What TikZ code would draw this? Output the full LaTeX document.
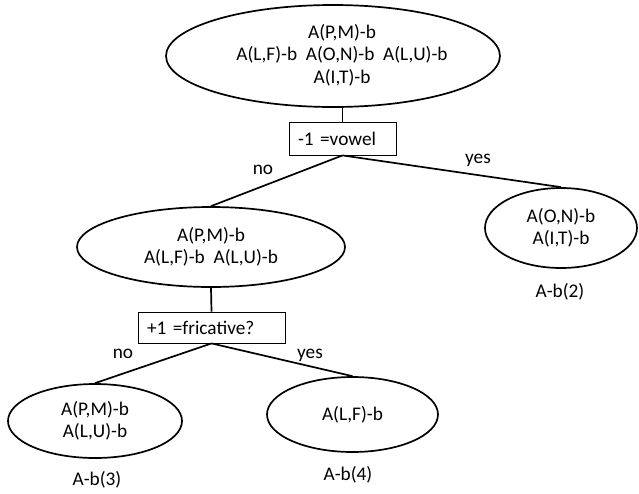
\documentclass[tikz,border=0pt]{standalone}
\usepackage{fontspec}
\setmainfont{Carlito}
\usetikzlibrary{shapes.geometric}
\begin{document}
\begin{tikzpicture}[x=1pt,y=-1pt,
  font=\fontsize{19.3}{22.5}\selectfont,
  oval/.style={draw, ellipse, line width=1.7pt, inner sep=0pt, align=center},
  test/.style={draw, rectangle, line width=0.8pt, inner sep=0pt, align=left},
  edge/.style={line width=1.7pt},
  txt/.style={inner sep=0pt, align=center}]
\useasboundingbox (0,0) rectangle (639,493);

% root set and its first question
\node[oval, minimum width=334pt, minimum height=102pt] (root) at (333,56) {};
\node[txt] (roottext) at (342,55) {A(P,M)-b\\A(L,F)-b\ \ A(O,N)-b\ \ A(L,U)-b\\A(I,T)-b};
\node[test, minimum width=107pt, minimum height=33pt, text width=89pt] (q1) at (342.5,138.5) {-1 =vowel};

% second level
\node[oval, minimum width=268pt, minimum height=80pt] (mid) at (211,247) {A(P,M)-b\\A(L,F)-b\ \ A(L,U)-b};
\node[oval, minimum width=152pt, minimum height=80pt] (right) at (561,228) {A(O,N)-b\\A(I,T)-b};
\node[test, minimum width=147pt, minimum height=31pt, text width=129pt] (q2) at (211.5,327.5) {+1 =fricative?};

% leaves
\node[oval, minimum width=174pt, minimum height=74pt] (left3) at (95,421) {A(P,M)-b\\A(L,U)-b};
\node[oval, minimum width=171pt, minimum height=75pt] (left4) at (352.5,414.5) {A(L,F)-b};

% connectors
\draw[edge] (q1.north) -- (q1.north |- root.south);
\draw[edge] (q1.south) -- (mid.north);
\draw[edge] (q1.south) -- (right.north);
\draw[edge] (mid.south) -- (q2.north);
\draw[edge] (q2.south) -- (left3.north);
\draw[edge] (q2.south) -- (left4.north);

% branch labels
\node[txt] (no1) at (263,170) {no};
\node[txt] (yes1) at (478,160) {yes};
\node[txt] (no2) at (123,354) {no};
\node[txt] (yes2) at (310,355) {yes};

% leaf names
\node[txt] (name2) at (560,292) {A-b(2)};
\node[txt] (name3) at (97,480) {A-b(3)};
\node[txt] (name4) at (348,475) {A-b(4)};
\end{tikzpicture}
\end{document}
